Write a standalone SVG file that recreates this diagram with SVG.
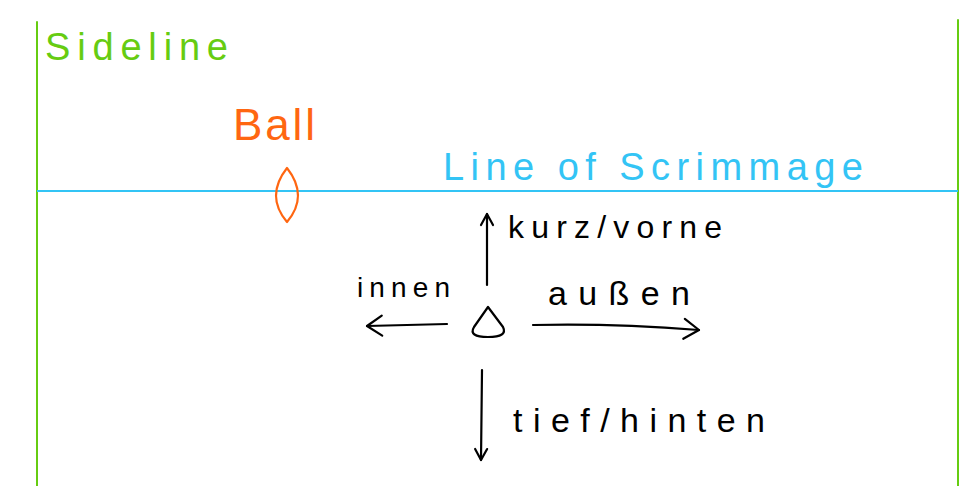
<svg xmlns="http://www.w3.org/2000/svg" width="973" height="486" viewBox="0 0 973 486">
<style>
.t{font-family:"Liberation Sans",Arial,sans-serif;font-weight:normal}
.g{fill:#66CC11}
.o{fill:#FF6611}
.b{fill:#33C4F5}
.k{fill:#000}
.ln{fill:none;stroke-linecap:round;stroke-linejoin:round}
.ar{fill:none;stroke:#000;stroke-width:2.2;stroke-linecap:round;stroke-linejoin:round}
</style>
<defs>
<marker id="ah" viewBox="0 0 20 24" refX="17" refY="12" markerWidth="20" markerHeight="24" markerUnits="userSpaceOnUse" orient="auto">
<path d="M2,2 L17,12 L2,22" fill="none" stroke="#000" stroke-width="2.2" stroke-linecap="round" stroke-linejoin="round"/>
</marker>
<marker id="ahs" viewBox="0 0 16 16" refX="13" refY="8" markerWidth="16" markerHeight="16" markerUnits="userSpaceOnUse" orient="auto">
<path d="M2,2 L13,8 L2,14" fill="none" stroke="#000" stroke-width="2.2" stroke-linecap="round" stroke-linejoin="round"/>
</marker>
</defs>
<rect width="973" height="486" fill="#fff"/>
<g id="sidelines">
<line class="ln" x1="37" y1="22" x2="37" y2="486" stroke="#66CC11" stroke-width="2"/>
<line class="ln" x1="958" y1="20" x2="958" y2="486" stroke="#66CC11" stroke-width="2"/>
<text class="t g" x="45" y="60" font-size="38" textLength="183" lengthAdjust="spacing">Sideline</text>
</g>
<g id="line-of-scrimmage">
<line x1="37" y1="191" x2="958" y2="191" stroke="#33C4F5" stroke-width="2"/>
<text class="t b" x="443" y="180" font-size="38" textLength="420" lengthAdjust="spacing">Line of Scrimmage</text>
</g>
<g id="ball">
<path d="M287,168 Q309,196 287,222 Q265,196 287,168 Z" fill="none" stroke="#FF6611" stroke-width="2.2" stroke-linejoin="round"/>
<text class="t o" x="233" y="140" font-size="44" textLength="82" lengthAdjust="spacing">Ball</text>
</g>
<g id="player">
<path d="M488,307 L474,327 Q468,337 488,337 Q508,337 503,327 Z" fill="none" stroke="#000" stroke-width="2.2" stroke-linejoin="round"/>
</g>
<g id="connectors">
<path class="ar" d="M487,285 L487,214" marker-end="url(#ahs)"/>
<path class="ar" d="M447,324 Q410,325 367,326" marker-end="url(#ah)"/>
<path class="ar" d="M533,325 Q610,323 699,330" marker-end="url(#ah)"/>
<path class="ar" d="M482,370 L481,460" marker-end="url(#ahs)"/>
</g>
<g id="labels">
<text class="t k" x="508" y="238" font-size="32" textLength="214" lengthAdjust="spacing">kurz/vorne</text>
<text class="t k" x="357" y="297" font-size="28" textLength="93" lengthAdjust="spacing">innen</text>
<text class="t k" x="548" y="305" font-size="34" textLength="142" lengthAdjust="spacing">außen</text>
<text class="t k" x="513" y="432" font-size="34" textLength="252" lengthAdjust="spacing">tief/hinten</text>
</g>
</svg>
